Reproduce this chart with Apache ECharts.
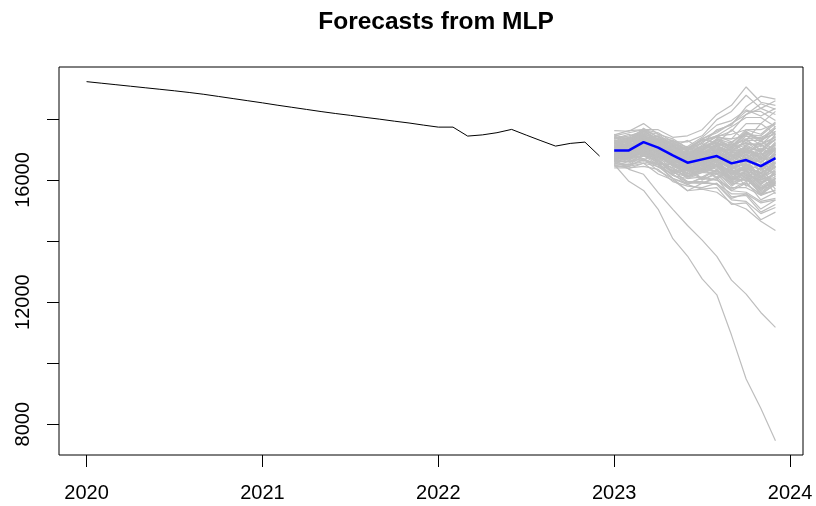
<!DOCTYPE html>
<html>
<head>
<meta charset="utf-8">
<script src="https://cdn.jsdelivr.net/npm/echarts@6/dist/echarts.min.js"></script>
<style>
  html, body { margin: 0; padding: 0; background: #fff; }
  #chart { width: 816px; height: 506px; }
</style>
</head>
<body>
<div id="chart"></div>
<script>
// Monthly observed series, Jan 2020 - Dec 2022
const histStart = 2020;
const histValues = [
  19225, 19175, 19125, 19075, 19025, 18975, 18925, 18870, 18810, 18740, 18670, 18600,
  18530, 18455, 18385, 18315, 18245, 18180, 18120, 18055, 17995, 17930, 17870, 17800,
  17735, 17735, 17441, 17480, 17552, 17660, 17473, 17290, 17113, 17201, 17244, 16786
];

// MLP point forecast, Jan 2023 - Dec 2023
const fcStart = 2023;
const fcValues = [16972, 16972, 17244, 17061, 16809, 16570, 16678, 16786, 16547, 16655, 16458, 16720];

// Simulated future sample paths (12 months each)
const simPaths = [
  [17100,17300,17420,17180,17050,16800,17150,17420,17600,18150,18500,18320],
  [16820,16650,17020,16700,16500,16350,16250,16520,16000,16300,15880,16250],
  [17350,17450,17600,17500,17150,17000,17050,17250,16950,17250,16900,17350],
  [16600,16620,16700,16420,16200,15850,16100,16000,15750,15750,15500,15680],
  [17000,16980,17380,17100,17000,16700,16950,16980,16900,16920,16850,17000],
  [16900,16900,17050,16900,16480,16350,16350,16600,16150,16400,16050,16450],
  [17480,17620,17650,17550,17250,17250,17450,17980,18250,18780,18350,18150],
  [16500,16380,16550,16200,16000,15650,15900,15880,15550,15550,15250,15350],
  [17200,17100,17400,17150,17050,16800,17000,17050,16950,17050,16950,17150],
  [16750,16850,17000,16950,16650,16500,16550,16800,16450,16750,16450,16850],
  [17050,16950,17250,16950,16800,16450,16600,16600,16400,16400,16250,16450],
  [17420,17400,17650,17300,17200,16950,17250,17450,17750,18050,18050,17750],
  [16700,16700,16800,16650,16250,16100,16100,16350,15900,16100,15650,16050],
  [17150,17250,17400,17350,17050,17000,17100,17450,17250,17550,17350,17750],
  [16950,16850,17100,16750,16550,16200,16350,16300,16050,16000,15750,15900],
  [16850,17000,17150,17100,16800,16700,16750,17000,16700,17000,16750,17150],
  [17300,17250,17550,17250,17100,16800,17050,17150,17050,17200,17150,17400],
  [16450,16450,16550,16450,16050,15900,15900,16100,15650,15900,15500,15900],
  [17050,17150,17300,17250,16950,16850,16950,17300,17100,17500,17450,17850],
  [16650,16550,16850,16550,16400,16100,16300,16300,16100,16150,16000,16200],
  [17250,17250,17300,17200,16850,16700,16650,16850,16400,16550,16100,16450],
  [16900,16950,17350,17100,16950,16650,16900,17000,17000,17150,17200,17400],
  [17620,17600,17850,17500,17350,17050,17300,17400,17350,17450,17350,17500],
  [16550,16500,16600,16500,16150,16050,16100,16300,15850,16050,15600,15950],
  [17100,17050,17350,17050,16900,16550,16700,16700,16550,16600,16500,16700],
  [16800,16800,16900,16800,16450,16300,16300,16500,16100,16300,15850,16200],
  [17000,17000,17100,17000,16650,16550,16600,16900,16650,17000,16800,17200],
  [17300,17300,17600,17300,17150,16850,17100,17200,17150,17300,17300,17550],
  [16700,16800,16950,16900,16550,16400,16400,16600,16200,16400,16000,16350],
  [17450,17550,17650,17650,17400,17450,17650,18150,18450,19050,18550,18450],
  [16900,16800,17100,16800,16650,16350,16600,16650,16550,16650,16600,16850],
  [17150,17150,17200,17050,16650,16450,16350,16500,16000,16150,15700,16000],
  [16600,16500,16800,16500,16300,15900,16050,16000,15650,15600,15300,15400],
  [17000,17100,17250,17200,16900,16850,16950,17350,17350,17850,17850,18250],
  [16850,16750,17050,16750,16600,16300,16550,16600,16450,16500,16350,16550],
  [17200,17300,17400,17300,16950,16850,16900,17150,16800,17050,16700,17050],
  [16750,16650,16950,16600,16400,16050,16250,16200,15900,15850,15550,15650],
  [17050,17050,17200,17150,16850,16750,16800,17050,16750,17000,16700,17100],
  [16950,16950,17300,17050,16950,16700,17000,17150,17150,17350,17400,17600],
  [16500,16500,16650,16550,16150,15950,15900,16050,15450,15500,14950,15200],
  [17350,17350,17650,17400,17300,17050,17350,17550,17850,18250,18250,17950],
  [16800,16900,17050,17000,16650,16550,16550,16750,16350,16550,16150,16550],
  [17100,17000,17250,16900,16700,16350,16500,16450,16200,16200,16000,16200],
  [16650,16600,16650,16500,16050,15850,15700,15750,15200,15250,14700,14950],
  [17250,17250,17600,17350,17250,17000,17300,17450,17500,17650,17650,17850],
  [16950,17000,17100,17000,16650,16550,16550,16800,16500,16750,16450,16850],
  [16400,16400,16450,16350,15950,15800,15750,15900,15400,15550,15050,15350],
  [17150,17100,17450,17200,17100,16850,17100,17200,17100,17200,17100,17300],
  [16850,16850,17200,16900,16750,16400,16550,16500,16250,16200,15950,16050],
  [17050,17150,17300,17300,17050,17050,17200,17650,17800,18400,18750,18650],
  [16750,16750,17050,16750,16600,16300,16450,16450,16300,16350,16250,16500],
  [17000,17000,17050,16950,16550,16400,16300,16450,15950,16050,15550,15850],
  [16550,16450,16700,16300,16050,15650,15700,15600,15250,15050,14650,14350],
  [17200,17250,17350,17250,16900,16800,16850,17100,16750,17000,16650,17050],
  [16900,16850,17150,16850,16700,16350,16500,16500,16300,16300,16100,16300],
  [17400,17350,17600,17300,17150,16850,17050,17100,16950,17000,16850,17050],
  [16650,16750,16900,16850,16500,16350,16350,16600,16250,16500,16200,16600],
  [17100,17100,17450,17250,17200,17000,17350,17600,17850,18150,18350,18600],
  [16800,16750,17050,16750,16550,16200,16350,16300,16050,16000,15700,15850],
  [17000,17050,17200,17100,16750,16650,16700,16950,16600,16850,16550,17000],
  [17250,16950,17400,17000,17150,16600,16900,16700,16950,16550,16900,16400],
  [16700,17000,16800,17100,16600,16850,16350,16700,16300,16850,16200,16950],
  [17450,17200,17500,17050,16800,16950,16600,17000,16650,16900,16400,16800],
  [16950,17250,17050,16750,16900,16400,16750,16450,16850,16350,16700,16100],
  [17150,16850,17300,16850,16550,16700,16250,16550,16050,16500,15850,16300],
  [16850,17100,17350,16850,17000,16550,16950,16850,17200,16800,17300,16950],
  [17300,17050,17150,17350,16850,17050,16700,17150,16850,17350,16950,17500],
  [16600,16900,16650,16950,16450,16250,16600,16200,16450,16050,16400,15800],
  [17050,17350,17500,17200,17300,16950,17350,17200,17650,17300,17850,17500],
  [16950,16700,17000,16650,16300,16500,16000,16250,15800,16150,15550,15950],
  [17200,17400,17150,16850,16950,16550,16850,16950,16550,16950,16550,17200],
  [16750,16950,17250,17050,16600,16750,16550,16950,16550,16750,16300,16750],
  [17400,17150,17350,17450,16950,17100,16800,17200,17000,17450,17150,17600],
  [16650,16850,16700,16500,16550,16100,16400,16050,16300,15800,16150,15550],
  [17100,16900,17450,17150,16800,16550,16900,16600,16850,16450,16750,16550],
  [16850,17000,16900,17200,16900,16650,16450,16850,16350,16650,16100,16400],
  [17000,17250,17400,16950,16750,16850,16500,16650,16200,16500,16050,16700],
  [17350,17500,17300,17450,17100,17300,17000,17350,17100,17600,17300,17700],
  [16550,16800,16950,16700,16250,16400,16050,16350,15950,16300,15800,16050],
  [17150,16950,17100,16900,16950,16500,16750,16600,16950,16600,17000,16750],
  [16900,17150,17250,17300,16950,16600,16800,17100,16750,17150,16900,17350],
  [17250,17050,17500,17100,16700,16850,16450,16650,16150,16450,15950,16100],
  [16800,16650,16900,16550,16500,16150,16350,16100,16350,15950,16250,15700],
  [17050,17200,17050,17250,17000,16900,17100,17300,17050,17550,17250,17700],
  [16700,16950,17150,16950,16800,16350,16650,16500,16600,16300,16500,16150],
  [17500,17300,17550,17250,16950,16850,17000,17150,16800,17100,16750,17250],
  [16950,16800,17250,16850,16650,16750,16350,16500,16050,16250,15750,15950],
  [17100,17300,17350,17150,17250,16800,16900,16750,17050,16700,17050,16800],
  [16800,16700,17000,17000,16500,16200,16550,16700,16350,16850,16450,16900],
  [17300,17100,17250,16950,17050,16750,17000,17350,17200,17650,17500,17900],
  [16650,16850,16900,16650,16200,16350,16000,16200,15700,15950,15350,15600],
  [17000,16900,17350,17250,16950,16650,16700,16750,16550,16700,16400,16600],
  [17200,17350,17450,17100,16800,16950,16650,16950,16500,16800,16400,16850],
  [16900,17050,16950,16800,16900,16550,16750,16900,16700,17100,16950,17450],
  [17400,17250,17700,17400,17100,16950,17200,16950,17250,16900,17150,16900],
  [16750,16600,16850,16750,16350,16100,16250,16450,16000,16300,15900,16250],
  [17050,17200,17250,17050,16800,16600,16700,16600,16400,16300,16100,15900],
  [16850,16950,17150,16950,16700,16800,17000,17250,16950,17300,17000,17350],
  [17250,17150,17300,17200,16950,16700,16600,16850,16650,16950,16600,17000],
  [16600,16700,16800,16600,16300,16150,16300,16400,16050,16200,15750,16050],
  [16900,16750,16950,16650,16300,15950,15950,15850,15350,15300,14900,15100],
  [17200,17250,17500,17350,17150,17100,17400,17800,17950,18300,18100,18350],
  [16510,15960,15660,15040,14080,13510,12760,12240,10920,9480,8520,7455],
  [16680,16350,16190,15590,15040,14510,14030,13500,12720,12260,11660,11170]
];

// Axis ticks and labels
const xTicks = [2020, 2021, 2022, 2023, 2024];
const yTicks = [8000, 10000, 12000, 14000, 16000, 18000];
const yLabels = [8000, 12000, 16000];

const FONT = "'Liberation Sans', Arial, Helvetica, sans-serif";

function toSeriesData(start, values) {
  return values.map((v, i) => [start + i / 12, v]);
}

const series = [];
simPaths.forEach((p) => {
  series.push({
    type: 'line',
    data: toSeriesData(fcStart, p),
    showSymbol: false,
    symbol: 'none',
    silent: true,
    lineStyle: { color: '#BEBEBE', width: 1.2 },
    z: 1
  });
});
series.push({
  type: 'line',
  data: toSeriesData(histStart, histValues),
  showSymbol: false,
  symbol: 'none',
  silent: true,
  lineStyle: { color: '#000000', width: 1 },
  z: 2
});
series.push({
  type: 'line',
  data: toSeriesData(fcStart, fcValues),
  showSymbol: false,
  symbol: 'none',
  silent: true,
  lineStyle: { color: '#0000FF', width: 2.5 },
  z: 3
});

const chart = echarts.init(document.getElementById('chart'), null, { renderer: 'canvas' });
chart.setOption({
  animation: false,
  backgroundColor: '#ffffff',
  title: {
    text: 'Forecasts from MLP',
    left: 431,
    textAlign: 'center',
    top: 5,
    textStyle: { fontFamily: FONT, fontSize: 24.5, fontWeight: 'bold', color: '#000' }
  },
  grid: {
    left: 59, right: 13, top: 67, bottom: 51,
    show: true, borderColor: '#000', borderWidth: 1,
    backgroundColor: 'transparent',
    containLabel: false,
    outerBoundsMode: 'none'
  },
  xAxis: {
    type: 'value',
    min: 2019.8433,
    max: 2024.0733,
    splitLine: { show: false },
    axisLine: { show: false },
    axisTick: { show: true, length: 12, lineStyle: { color: '#000', width: 1 }, customValues: xTicks },
    axisLabel: {
      customValues: xTicks,
      margin: 28,
      color: '#000',
      fontFamily: FONT,
      fontSize: 20,
      formatter: (v) => String(Math.round(v))
    }
  },
  yAxis: {
    type: 'value',
    min: 6990,
    max: 19705,
    splitLine: { show: false },
    axisLine: { show: false },
    axisTick: { show: true, length: 12, lineStyle: { color: '#000', width: 1 }, customValues: yTicks },
    axisLabel: {
      customValues: yLabels,
      rotate: 90,
      margin: 26,
      color: '#000',
      fontFamily: FONT,
      fontSize: 20,
      formatter: (v) => String(Math.round(v))
    }
  },
  series: series
});
</script>
</body>
</html>
